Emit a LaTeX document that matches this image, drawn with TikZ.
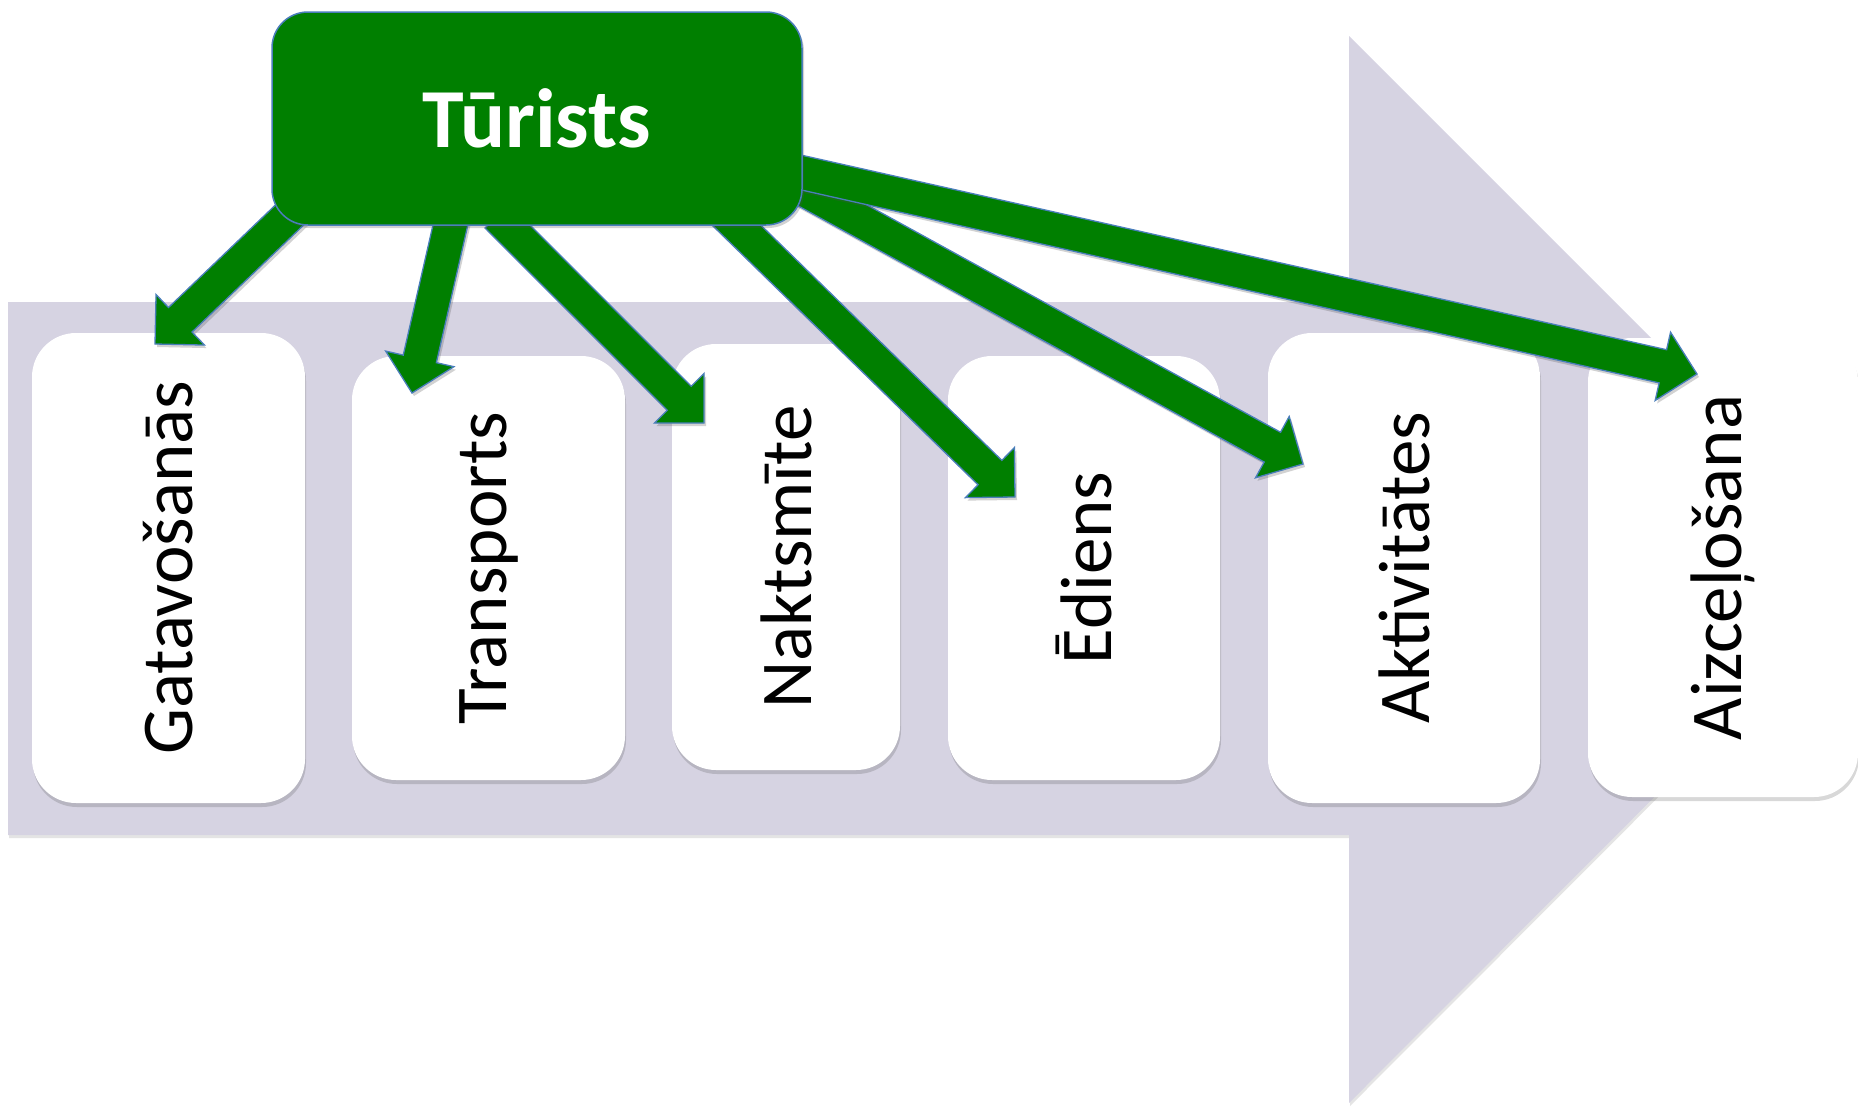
\documentclass[tikz,border=0pt]{standalone}
\usepackage{fontspec}
\setmainfont{Carlito}
\usetikzlibrary{calc,shadows}
\definecolor{band}{RGB}{214,211,226}
\definecolor{tgreen}{RGB}{0,127,0}
\definecolor{tblue}{RGB}{74,126,187}
\tikzset{
  stagebox/.style={fill=white, draw=none, rounded corners=44pt, inner sep=0pt,
    drop shadow={shadow xshift=1pt, shadow yshift=-4pt, opacity=0.22, fill=black!70}},
  stagelabel/.style={rotate=90, font=\fontsize{73}{73}\selectfont, text=black, inner sep=0pt},
  greenarrow/.style={fill=tgreen, draw=tblue, line width=1.3pt, line join=miter,
    drop shadow={shadow xshift=2pt, shadow yshift=-3pt, opacity=0.25, fill=black!70}},
  turbox/.style={fill=tgreen, draw=tblue, line width=1.5pt, rounded corners=36pt, inner sep=0pt,
    text=white, font=\bfseries\fontsize{84}{84}\selectfont,
    drop shadow={shadow xshift=2pt, shadow yshift=-3pt, opacity=0.25, fill=black!70}}
}
% block arrow from start coordinate #1 to tip coordinate #2
\newcommand{\blockarrow}[2]{%
  \coordinate (#2-base) at ($(#2)!35pt!(#1)$);
  \filldraw[greenarrow] ($(#1)!17pt!90:(#2)$) -- ($(#2-base)!17pt!-90:(#1)$)
    -- ($(#2-base)!35pt!-90:(#1)$) -- (#2) -- ($(#2-base)!35pt!90:(#1)$)
    -- ($(#2-base)!17pt!90:(#1)$) -- ($(#1)!17pt!-90:(#2)$) -- cycle;
}
\begin{document}
\begin{tikzpicture}[x=1pt, y=-1pt]
\useasboundingbox (0,0) rectangle (1858,1106);
% background process arrow
\begin{scope}
  \clip (0,0) rectangle (1858,1106);
  \fill[band, drop shadow={shadow xshift=1pt, shadow yshift=-3pt, opacity=0.15, fill=black!70}]
    (8,302) -- (1349,302) -- (1349,36) -- (1882,569) -- (1349,1103) -- (1349,835) -- (8,835) -- cycle;
\end{scope}
% stage boxes
\node[stagebox, minimum width=273pt, minimum height=470pt] (b1) at (168.5,568) {};
\node[stagebox, minimum width=273pt, minimum height=424pt] (b2) at (488.5,568) {};
\node[stagebox, minimum width=228pt, minimum height=426pt] (b3) at (786,557) {};
\node[stagebox, minimum width=272pt, minimum height=424pt] (b4) at (1084,568) {};
\node[stagebox, minimum width=272pt, minimum height=470pt] (b5) at (1404,568) {};
\node[stagebox, minimum width=270pt, minimum height=459pt] (b6) at (1723,567.5) {};
\node[stagelabel] (l1) at (b1.center) {Gatavošanās};
\node[stagelabel] (l2) at (b2.center) {Transports};
\node[stagelabel] (l3) at (b3.center) {Naktsmīte};
\node[stagelabel] (l4) at (b4.center) {Ēdiens};
\node[stagelabel] (l5) at (b5.center) {Aktivitātes};
\node[stagelabel] (l6) at (b6.center) {Aizceļošana};
% arrow start and tip coordinates
\coordinate (s1) at (300,205);  \coordinate (t1) at (155,344);
\coordinate (s2) at (455,205);  \coordinate (t2) at (412,393);
\coordinate (s3) at (497,216);  \coordinate (t3) at (704,423);
\coordinate (s4) at (721,210);  \coordinate (t4) at (1015,497);
\coordinate (s5) at (790,182);  \coordinate (t5) at (1303,464);
\coordinate (s6) at (790,170);  \coordinate (t6) at (1697,374);
\blockarrow{s1}{t1}
\blockarrow{s2}{t2}
\blockarrow{s3}{t3}
\blockarrow{s4}{t4}
\blockarrow{s5}{t5}
\blockarrow{s6}{t6}
% tourist box
\node[turbox, minimum width=530pt, minimum height=213pt] (T) at (537,118.5) {Tūrists};
\end{tikzpicture}
\end{document}
